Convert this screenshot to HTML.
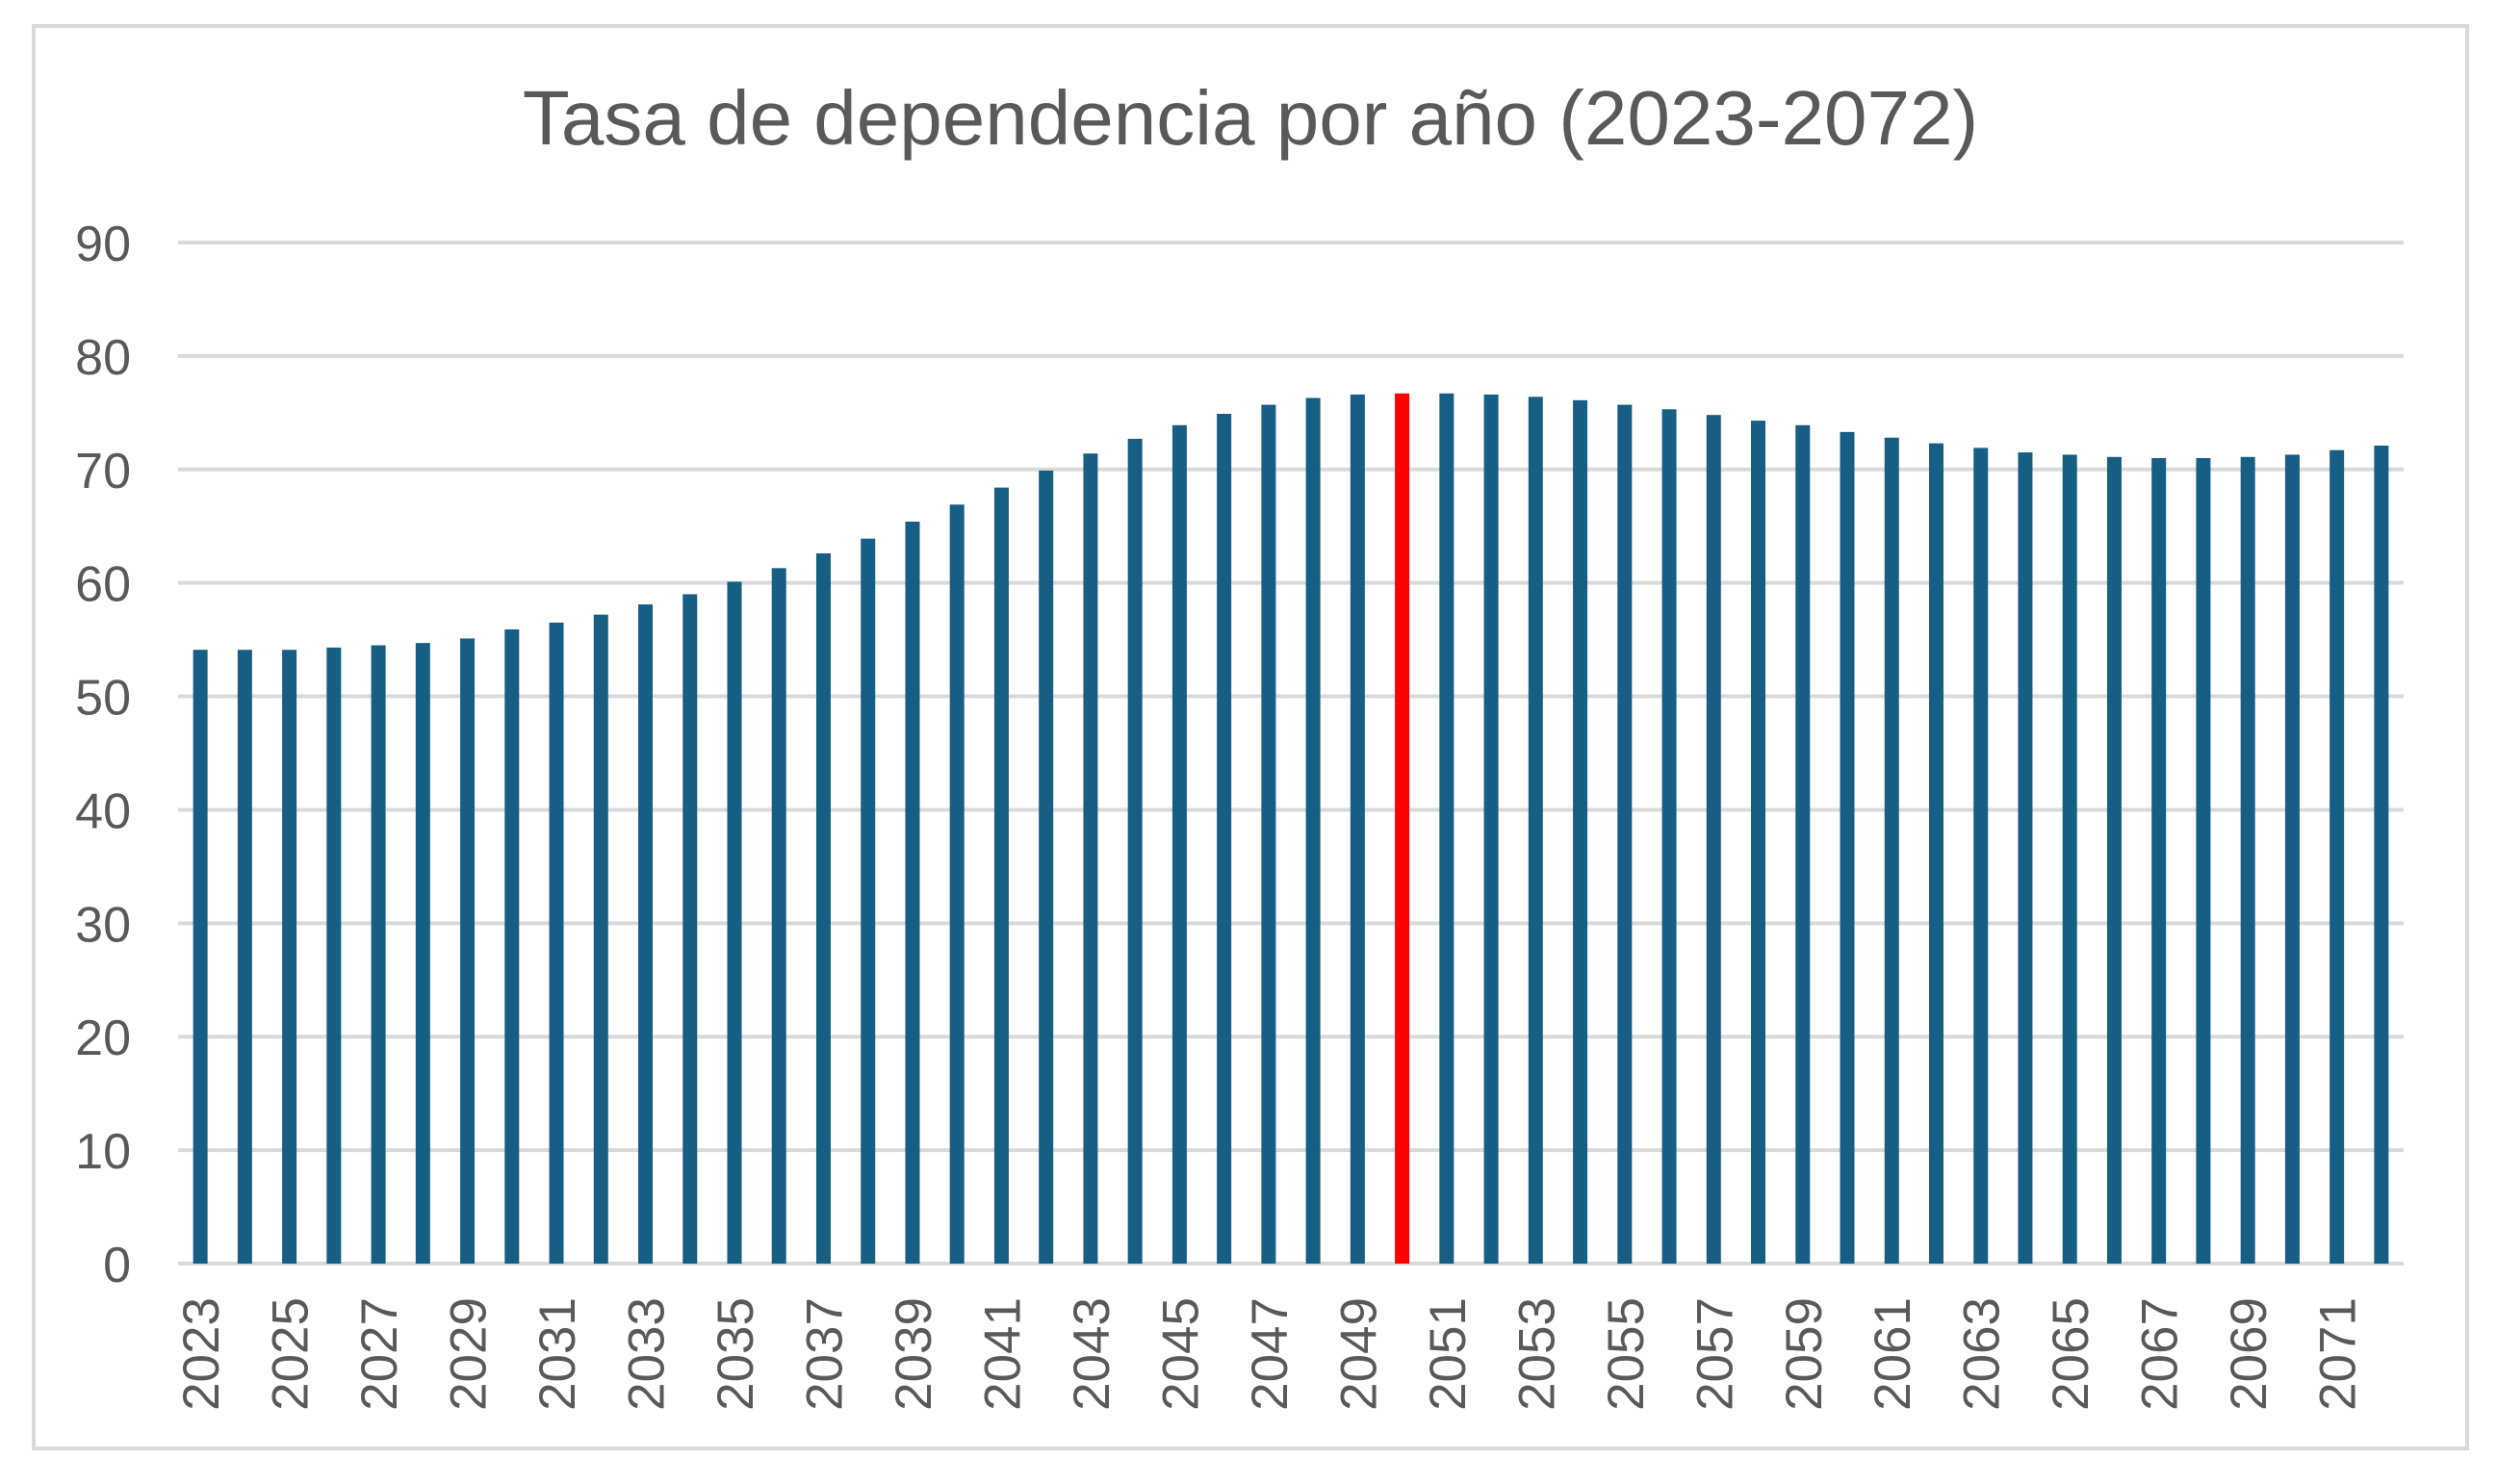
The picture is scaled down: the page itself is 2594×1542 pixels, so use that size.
<!DOCTYPE html>
<html><head><meta charset="utf-8"><style>
html,body{margin:0;padding:0;background:#fff;}
svg{display:block;font-family:"Liberation Sans",sans-serif;}
</style></head><body>
<svg id="chart" width="2594" height="1542" viewBox="0 0 2594 1542">
<rect x="35" y="27" width="2528" height="1478" fill="#fff" stroke="#d9d9d9" stroke-width="4"/>
<text x="1299" y="150" text-anchor="middle" font-size="80" fill="#595959">Tasa de dependencia por año (2023-2072)</text>
<g id="grid"></g><g id="yticks"></g><g id="bars"></g><g id="xticks"></g>
</svg>
<script>
const years = [];
for (let y = 2023; y <= 2072; y++) years.push(y);
const values = [54.1,54.1,54.1,54.3,54.5,54.7,55.1,55.9,56.5,57.2,58.1,59.0,60.1,61.3,62.6,63.9,65.4,66.9,68.4,69.9,71.4,72.7,73.9,74.9,75.7,76.3,76.6,76.7,76.7,76.6,76.4,76.1,75.7,75.3,74.8,74.3,73.9,73.3,72.8,72.3,71.9,71.5,71.3,71.1,71.0,71.0,71.1,71.3,71.7,72.1];
const highlightYear = 2050;
const yTicks = [0,10,20,30,40,50,60,70,80,90];

const NS = "http://www.w3.org/2000/svg";
const X0 = 185, X1 = 2497, Y0 = 1313, Y90 = 252;
const band = (X1 - X0) / years.length;
const yScale = v => Y0 - (v / 90) * (Y0 - Y90);
const xCenter = i => X0 + band * (i + 0.5);
function mk(tag, attrs, parent) { const e = document.createElementNS(NS, tag); for (const k in attrs) e.setAttribute(k, attrs[k]); parent.appendChild(e); return e; }

const grid = document.getElementById('grid'), yt = document.getElementById('yticks');
yTicks.forEach(t => {
  const l = mk('line', {x1: X0, x2: X1, y1: yScale(t), y2: yScale(t), stroke: '#d9d9d9', 'stroke-width': 4}, grid);
  
  
  const tx = mk('text', {x: 136, y: yScale(t) + 19, 'text-anchor': 'end', 'font-size': 52, fill: '#595959'}, yt);
  tx.textContent = t;
  
  
});

const bars = document.getElementById('bars'), xt = document.getElementById('xticks');
const bw = 15;
years.forEach((yr, i) => {
  const v = values[i];
  const r = mk('rect', {x: xCenter(i) - bw / 2, y: yScale(v), width: bw, height: Y0 - yScale(v), fill: yr === highlightYear ? '#ff0000' : '#165e83'}, bars);
  
  
  if (i % 2 === 0) {
    const cx = xCenter(i) + 19, ty = 1348;
    const t = mk('text', {x: cx, y: ty, transform: `rotate(-90 ${cx} ${ty})`, 'text-anchor': 'end', 'font-size': 53, fill: '#595959'}, xt);
    t.textContent = yr;
    
    
  }
});
</script>
</body></html>
